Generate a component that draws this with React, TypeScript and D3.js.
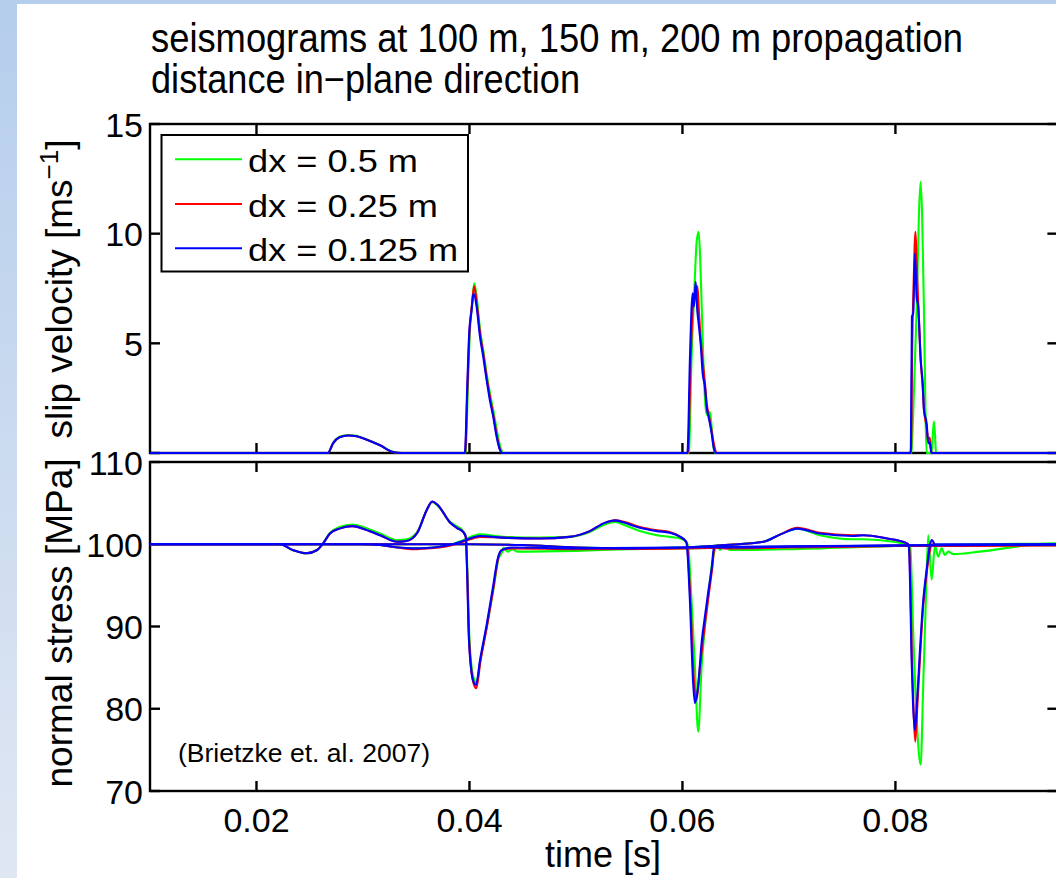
import React from 'react';
import * as d3 from 'd3';

type P = [number, number];

const xTicks = [0.02, 0.04, 0.06, 0.08];
const xTickLabels = ['0.02', '0.04', '0.06', '0.08'];
const slipTicks = [0, 5, 10, 15];
const slipTickLabels = ['', '5', '10', '15'];
const stressTicks = [70, 80, 90, 100, 110];
const stressTickLabels = ['70', '80', '90', '100', '110'];
const legendLabels = ['dx = 0.5 m', 'dx = 0.25 m', 'dx = 0.125 m'];
const seriesColors = ['#00ff00', '#ff0000', '#0000ff'];

// slip velocity [m/s] vs time [s]
const slipGreen: P[] = [
  [0.0100, 0], [0.0267, 0], [0.0272, 0.45], [0.0278, 0.74], [0.0286, 0.82], [0.0294, 0.78], [0.0303, 0.63], [0.0316, 0.36], [0.0328, 0.06], [0.0337, 0],
  [0.03960, 0], [0.03964, 0.05], [0.03985, 3.0], [0.04003, 5.5], [0.04025, 6.8], [0.04038, 7.5], [0.04046, 7.74], [0.04070, 7.0], [0.04100, 5.6], [0.04132, 4.6], [0.04165, 3.5], [0.04197, 2.6], [0.04229, 1.8], [0.04262, 0.9], [0.04295, 0.2], [0.04315, 0],
  [0.06058, 0], [0.06062, 0.1], [0.06085, 4.24], [0.06117, 8.04], [0.06132, 9.56], [0.06152, 10.09], [0.06164, 9.2], [0.06179, 6.98], [0.06200, 3.63], [0.06226, 1.81], [0.06242, 1.7], [0.06258, 1.88], [0.06289, 0.36], [0.06305, 0],
  [0.08148, 0], [0.08151, 0.1], [0.08175, 3.0], [0.08199, 6.52], [0.08220, 10.78], [0.08236, 12.37], [0.08251, 10.8], [0.08268, 6.5], [0.08283, 1.66], [0.08293, 0],
  [0.08340, 0], [0.08352, 0.9], [0.08362, 1.43], [0.08372, 0.8], [0.08381, 0],
  [0.0955, 0],
];
const slipRed: P[] = [
  [0.0100, 0], [0.0267, 0], [0.0272, 0.45], [0.0278, 0.72], [0.0286, 0.8], [0.0294, 0.76], [0.0303, 0.62], [0.0316, 0.35], [0.0328, 0.05], [0.0336, 0],
  [0.03953, 0], [0.03960, 0.05], [0.03981, 3.0], [0.04000, 5.5], [0.04022, 6.7], [0.04037, 7.4], [0.04046, 7.6], [0.04069, 6.8], [0.04101, 5.4], [0.04131, 4.5], [0.04163, 3.4], [0.04194, 2.5], [0.04225, 1.7], [0.04257, 0.8], [0.04288, 0.15], [0.04310, 0],
  [0.06050, 0], [0.06054, 0.1], [0.06077, 4.24], [0.06102, 6.98], [0.06121, 7.4], [0.06141, 7.6], [0.06155, 6.4], [0.06171, 5.2], [0.06190, 4.2], [0.06211, 3.2], [0.06227, 2.3], [0.06252, 1.6], [0.06274, 1.0], [0.06300, 0.3], [0.06320, 0],
  [0.08140, 0], [0.08147, 0.2], [0.08158, 5.0], [0.08170, 7.5], [0.08188, 10.09], [0.08200, 8.6], [0.08214, 6.8], [0.08237, 4.3], [0.08256, 3.0], [0.08268, 2.0], [0.08293, 1.2], [0.08308, 0.6], [0.08322, 0.7], [0.08340, 0],
  [0.0955, 0],
];
const slipBlue: P[] = [
  [0.0100, 0], [0.0267, 0], [0.0272, 0.45], [0.0278, 0.72], [0.0286, 0.8], [0.0294, 0.76], [0.0303, 0.62], [0.0316, 0.35], [0.0328, 0.05], [0.0336, 0],
  [0.03953, 0], [0.03958, 0.05], [0.03979, 3.0], [0.03998, 5.5], [0.04020, 6.5], [0.04035, 7.2], [0.04044, 7.25], [0.04067, 6.67], [0.04099, 5.3], [0.04129, 4.4], [0.04161, 3.33], [0.04192, 2.4], [0.04223, 1.66], [0.04255, 0.74], [0.04286, 0.14], [0.04305, 0],
  [0.06045, 0], [0.06049, 0.1], [0.06070, 4.24], [0.06096, 7.28], [0.06108, 6.67], [0.06124, 7.81], [0.06139, 6.52], [0.06152, 5.91], [0.06171, 5.0], [0.06190, 3.63], [0.06211, 3.02], [0.06227, 2.11], [0.06252, 1.5], [0.06274, 0.9], [0.06295, 0.2], [0.06314, 0],
  [0.08140, 0], [0.08145, 0.2], [0.08155, 6.21], [0.08167, 6.37], [0.08183, 9.1], [0.08199, 7.13], [0.08214, 6.67], [0.08237, 4.24], [0.08256, 3.18], [0.08268, 1.96], [0.08293, 1.35], [0.08308, 0.44], [0.08321, 0.5], [0.08338, 0],
  [0.0955, 0],
];

// normal stress [MPa] vs time [s], one trace per station (100 m, 150 m, 200 m)
const stressGreen1: P[] = [
  [0.0100, 100], [0.0222, 100], [0.0234, 99.3], [0.0247, 98.9], [0.0257, 99.3], [0.0262, 100.0], [0.0269, 101.4], [0.0278, 102.1], [0.0290, 102.4], [0.0302, 102.0], [0.0316, 101.3], [0.0332, 100.5], [0.0341, 100.6], [0.0351, 101.5], [0.0360, 104.2], [0.0365, 105.1], [0.0370, 104.7], [0.0382, 102.7], [0.0388, 102.2], [0.0394, 101.6], [0.03968, 100.9],
  [0.03980, 97], [0.04000, 88.4], [0.04038, 83.8], [0.04066, 83.2], [0.04104, 86.0], [0.04170, 90.5], [0.04226, 94.6], [0.04272, 98.2], [0.04305, 99.0], [0.0432, 99.6], [0.0436, 99.1], [0.0440, 99.4], [0.0445, 99.1], [0.0500, 99.2], [0.0550, 99.4], [0.0600, 99.5], [0.0700, 99.7], [0.0800, 99.8], [0.0955, 99.9],
];
const stressGreen2: P[] = [
  [0.0100, 100], [0.0300, 100], [0.0316, 99.9], [0.0333, 99.6], [0.0347, 99.5], [0.0360, 99.55], [0.0372, 99.7], [0.0384, 100.0], [0.0394, 100.5], [0.0410, 101.2], [0.0431, 100.9], [0.0466, 100.8], [0.0494, 100.9], [0.0513, 101.5], [0.0527, 102.4], [0.0537, 102.7], [0.0546, 102.3], [0.0560, 101.6], [0.0576, 101.1], [0.0588, 100.9], [0.0598, 100.7], [0.06040, 100.2],
  [0.06055, 99.6], [0.06085, 93.2], [0.06117, 85.1], [0.06148, 77.2], [0.06180, 85.1], [0.06211, 90.0], [0.06242, 93.6], [0.06274, 97.3], [0.06305, 99.3], [0.06327, 99.9], [0.06352, 99.3], [0.06383, 99.7], [0.0645, 99.3], [0.0700, 99.4], [0.0800, 99.8], [0.0955, 100.1],
];
const stressGreen3: P[] = [
  [0.0100, 100], [0.0400, 100], [0.0450, 99.9], [0.0500, 99.6], [0.0550, 99.5], [0.0600, 99.6], [0.0640, 99.9], [0.0676, 100.3], [0.0692, 101.2], [0.0708, 101.9], [0.0729, 101.1], [0.0760, 100.6], [0.0770, 100.6], [0.0792, 100.4], [0.0807, 100.1], [0.08125, 99.9],
  [0.08140, 99.5], [0.08167, 89.2], [0.08199, 79.0], [0.08237, 73.2], [0.08261, 82.9], [0.08290, 95.0], [0.08308, 101.1], [0.08340, 95.7], [0.08371, 99.8], [0.08402, 98.5], [0.08433, 99.5], [0.08465, 98.7], [0.08496, 99.1], [0.08543, 98.8], [0.08793, 99.1], [0.09263, 99.9], [0.0955, 100.1],
];
const stressRed1: P[] = [
  [0.0100, 100], [0.0222, 100], [0.0234, 99.3], [0.0247, 98.9], [0.0257, 99.3], [0.0262, 100.0], [0.0269, 101.3], [0.0278, 101.9], [0.0290, 102.2], [0.0302, 101.8], [0.0316, 101.1], [0.0332, 100.3], [0.0341, 100.4], [0.0351, 101.4], [0.0360, 104.2], [0.0365, 105.2], [0.0370, 104.8], [0.0382, 102.6], [0.0388, 102.0], [0.0394, 101.5], [0.03965, 100.9],
  [0.03978, 97], [0.03997, 88.4], [0.04036, 83.2], [0.04064, 82.5], [0.04102, 85.7], [0.04167, 90.2], [0.04224, 94.6], [0.04270, 98.3], [0.04305, 99.3], [0.0440, 99.5], [0.0500, 99.4], [0.0600, 99.5], [0.0700, 99.7], [0.0800, 99.8], [0.0955, 99.9],
];
const stressRed2: P[] = [
  [0.0100, 100], [0.0300, 100], [0.0316, 99.9], [0.0333, 99.6], [0.0347, 99.4], [0.0360, 99.5], [0.0372, 99.6], [0.0384, 99.9], [0.0394, 100.3], [0.0410, 100.9], [0.0431, 100.8], [0.0466, 100.7], [0.0494, 100.9], [0.0513, 101.6], [0.0527, 102.6], [0.0537, 102.9], [0.0546, 102.7], [0.0560, 102.1], [0.0576, 101.7], [0.0588, 101.5], [0.0598, 100.9], [0.06035, 100.3],
  [0.06045, 99.8], [0.06075, 93.0], [0.06105, 84.0], [0.06133, 81.1], [0.06160, 84.5], [0.06190, 88.0], [0.06218, 91.0], [0.06248, 94.0], [0.06282, 97.4], [0.06300, 99.6], [0.0640, 99.5], [0.0700, 99.6], [0.0800, 99.8], [0.0955, 99.9],
];
const stressRed3: P[] = [
  [0.0100, 100], [0.0400, 100], [0.0450, 99.9], [0.0500, 99.6], [0.0550, 99.45], [0.0600, 99.55], [0.0640, 99.9], [0.0676, 100.3], [0.0692, 101.2], [0.0708, 102.0], [0.0729, 101.4], [0.0760, 101.1], [0.0770, 101.1], [0.0792, 100.7], [0.0807, 100.3], [0.08120, 100.0],
  [0.08129, 99.6], [0.08157, 85.0], [0.08170, 80.0], [0.08186, 76.0], [0.08205, 80.2], [0.08232, 86.5], [0.08260, 92.4], [0.08298, 97.0], [0.08326, 99.4], [0.08345, 100.0], [0.08371, 99.8], [0.0955, 99.9],
];
const stressBlue1: P[] = [
  [0.0100, 100], [0.0222, 100], [0.0234, 99.3], [0.0247, 98.9], [0.0257, 99.3], [0.0262, 100.0], [0.0269, 101.3], [0.0278, 101.9], [0.0290, 102.2], [0.0302, 101.8], [0.0316, 101.1], [0.0332, 100.3], [0.0341, 100.4], [0.0351, 101.4], [0.0360, 104.2], [0.0365, 105.2], [0.0370, 104.8], [0.0382, 102.6], [0.0388, 102.0], [0.0394, 101.5], [0.03965, 100.9],
  [0.03977, 97], [0.03995, 88.4], [0.04033, 83.5], [0.04061, 82.9], [0.04099, 85.9], [0.04164, 90.4], [0.04221, 94.8], [0.04268, 98.4], [0.04305, 99.3], [0.0440, 99.6], [0.0500, 99.5], [0.0600, 99.6], [0.0700, 99.75], [0.0800, 99.85], [0.0955, 99.95],
];
const stressBlue2: P[] = [
  [0.0100, 100], [0.0300, 100], [0.0316, 99.9], [0.0333, 99.6], [0.0347, 99.5], [0.0360, 99.55], [0.0372, 99.7], [0.0384, 100.0], [0.0394, 100.4], [0.0410, 101.0], [0.0431, 100.8], [0.0466, 100.7], [0.0494, 100.9], [0.0513, 101.6], [0.0527, 102.6], [0.0537, 102.9], [0.0546, 102.6], [0.0560, 102.0], [0.0576, 101.6], [0.0588, 101.4], [0.0598, 100.9], [0.06035, 100.3],
  [0.06042, 99.8], [0.06070, 93.2], [0.06099, 83.5], [0.06117, 80.7], [0.06146, 82.6], [0.06183, 88.4], [0.06211, 91.2], [0.06240, 94.0], [0.06277, 97.3], [0.06296, 99.7], [0.0640, 99.6], [0.0700, 99.7], [0.0800, 99.85], [0.0955, 100],
];
const stressBlue3: P[] = [
  [0.0100, 100], [0.0400, 100], [0.0450, 99.9], [0.0500, 99.6], [0.0550, 99.5], [0.0600, 99.6], [0.0640, 99.9], [0.0676, 100.3], [0.0692, 101.2], [0.0708, 101.9], [0.0729, 101.3], [0.0760, 101.0], [0.0770, 101.1], [0.0792, 100.7], [0.0807, 100.3], [0.08120, 100.0],
  [0.08127, 99.6], [0.08154, 85.1], [0.08164, 81.1], [0.08183, 77.4], [0.08202, 80.7], [0.08230, 87.0], [0.08258, 92.6], [0.08296, 97.2], [0.08324, 99.9], [0.08343, 100.5], [0.08371, 100.0], [0.0955, 100],
];

const FONT = "'Liberation Sans', Arial, Helvetica, sans-serif";

export default function App() {
  const W = 1056;
  const H = 878;
  const left = 150;
  const right = 1057.4;
  const topT = 124, topB = 453;
  const botT = 462, botB = 791;

  const x = d3.scaleLinear().domain([0.01, 0.09521]).range([left, right]);
  const ySlip = d3.scaleLinear().domain([0, 15]).range([topB, topT]);
  const yStress = d3.scaleLinear().domain([70, 110]).range([botB, botT]);

  const lineSlip = d3.line<P>().x(d => x(d[0])).y(d => ySlip(d[1])).curve(d3.curveMonotoneX);
  const lineStress = d3.line<P>().x(d => x(d[0])).y(d => yStress(d[1])).curve(d3.curveMonotoneX);

  const slipSeries = [slipGreen, slipRed, slipBlue];
  const stressSeries = [
    [stressGreen1, stressGreen2, stressGreen3],
    [stressRed1, stressRed2, stressRed3],
    [stressBlue1, stressBlue2, stressBlue3],
  ];

  const tickLen = 10;
  const axisW = 2.4;
  const lw = 2.1;

  const frame = (yT: number, yB: number, yScale: d3.ScaleLinear<number, number>, yt: number[]) => (
    <g>
      <rect x={left} y={yT} width={right - left} height={yB - yT} fill="none" stroke="#000" strokeWidth={axisW} />
      {xTicks.map(t => (
        <g key={'xt' + t}>
          <line x1={x(t)} x2={x(t)} y1={yB} y2={yB - tickLen} stroke="#000" strokeWidth={axisW} />
          <line x1={x(t)} x2={x(t)} y1={yT} y2={yT + tickLen} stroke="#000" strokeWidth={axisW} />
        </g>
      ))}
      {yt.map(v => (
        <g key={'yt' + v}>
          <line x1={left} x2={left + tickLen} y1={yScale(v)} y2={yScale(v)} stroke="#000" strokeWidth={axisW} />
          <line x1={right} x2={right - tickLen} y1={yScale(v)} y2={yScale(v)} stroke="#000" strokeWidth={axisW} />
        </g>
      ))}
    </g>
  );

  return (
    <svg width={W} height={H} style={{ position: 'absolute', left: 0, top: 0 }} fontFamily={FONT}>
      <defs>
        <linearGradient id="bg" x1="0" y1="0" x2="0" y2="1">
          <stop offset="0" stopColor="#b5ceec" />
          <stop offset="1" stopColor="#e0e7f3" />
        </linearGradient>
        <clipPath id="clipTop">
          <rect x={left} y={topT - 2} width={right - left} height={topB - topT + 4} />
        </clipPath>
        <clipPath id="clipBot">
          <rect x={left} y={botT - 2} width={right - left} height={botB - botT + 4} />
        </clipPath>
      </defs>
      <rect x={0} y={0} width={W} height={H} fill="url(#bg)" />
      <rect x={17} y={4} width={W - 17} height={H - 4} fill="#ffffff" />

      {/* title */}
      <text x={151} y={52} fontSize={40} textLength={812} lengthAdjust="spacingAndGlyphs">seismograms at 100 m, 150 m, 200 m propagation</text>
      <text x={151} y={93} fontSize={40} textLength={429} lengthAdjust="spacingAndGlyphs">distance in−plane direction</text>

      {frame(topT, topB, ySlip, slipTicks)}
      {frame(botT, botB, yStress, stressTicks)}

      {/* data */}
      <g clipPath="url(#clipTop)">
        {slipSeries.map((s, i) => (
          <path key={'s' + i} d={lineSlip(s) || ''} fill="none" stroke={seriesColors[i]} strokeWidth={lw} strokeLinejoin="round" />
        ))}
      </g>
      <g clipPath="url(#clipBot)">
        {stressSeries.map((group, i) =>
          group.map((s, j) => (
            <path key={'n' + i + j} d={lineStress(s) || ''} fill="none" stroke={seriesColors[i]} strokeWidth={lw} strokeLinejoin="round" />
          ))
        )}
      </g>

      {/* y tick labels */}
      {slipTicks.map((v, i) => (
        <text key={'sl' + v} x={143} y={ySlip(v) + 12.5} fontSize={34} textAnchor="end">{slipTickLabels[i]}</text>
      ))}
      {stressTicks.map((v, i) => (
        <text key={'stl' + v} x={143} y={yStress(v) + 12.5} fontSize={34} textAnchor="end">{stressTickLabels[i]}</text>
      ))}
      {/* x tick labels */}
      {xTicks.map((t, i) => (
        <text key={'xl' + t} x={x(t)} y={832} fontSize={34} textAnchor="middle">{xTickLabels[i]}</text>
      ))}

      {/* axis labels */}
      <text x={603} y={867} fontSize={36} textAnchor="middle">time [s]</text>
      <text transform="translate(72,289) rotate(-90)" fontSize={37} textAnchor="middle">
        slip velocity [ms<tspan dy={-14} fontSize={26}>−1</tspan><tspan dy={14}>]</tspan>
      </text>
      <text transform="translate(72,623) rotate(-90)" fontSize={37} textAnchor="middle">normal stress [MPa]</text>

      {/* annotation */}
      <text x={178} y={762} fontSize={25} textLength={252} lengthAdjust="spacingAndGlyphs">(Brietzke et. al. 2007)</text>

      {/* legend */}
      <g>
        <rect x={161.5} y={135} width={306.5} height={136.5} fill="#fff" stroke="#000" strokeWidth={2} />
        {legendLabels.map((lab, i) => {
          const ly = [159.3, 204, 248.3][i];
          return (
            <g key={lab}>
              <line x1={175} x2={242} y1={ly} y2={ly} stroke={seriesColors[i]} strokeWidth={2} />
              <text x={248} y={ly + 12.5} fontSize={32} textLength={[170, 190, 210][i]} lengthAdjust="spacingAndGlyphs">{lab}</text>
            </g>
          );
        })}
      </g>
    </svg>
  );
}
